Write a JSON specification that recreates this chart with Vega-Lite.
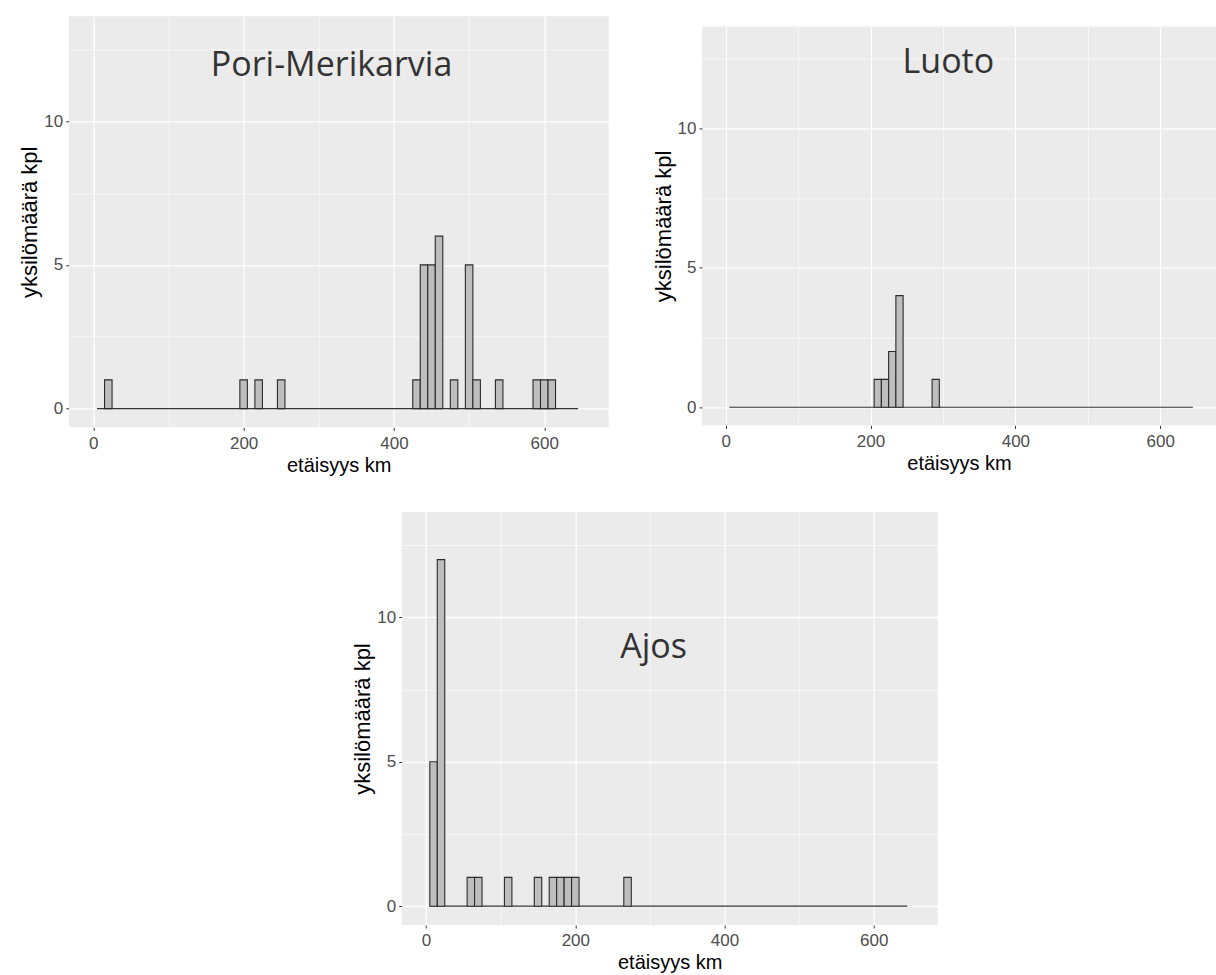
{
  "$schema": "https://vega.github.io/schema/vega-lite/v6.json",
  "background": "white",
  "padding": {"left": 18.7, "top": 13.3, "right": 0, "bottom": 0},
  "config": {
    "view": {"fill": "#EBEBEB", "stroke": null},
    "axis": {
      "domain": false,
      "grid": true,
      "gridColor": "white",
      "tickColor": "#333333",
      "tickSize": 3,
      "tickWidth": 1,
      "labelColor": "#4D4D4D",
      "labelFont": "Liberation Sans",
      "labelFontSize": 17,
      "labelPadding": 3,
      "titleFont": "Liberation Sans",
      "titleFontSize": 20,
      "titleFontWeight": "normal",
      "titleColor": "#000000",
      "titlePadding": 2
    },
    "axisX": {"labelPadding": 5, "titlePadding": 4},
    "axisY": {"titleFontSize": 22}
  },
  "vconcat": [
    {
      "hconcat": [
        {
          "width": 540,
          "height": 411,
          "layer": [
            {
              "data": {"values": [{"lo": 5, "hi": 645}]},
              "mark": {"type": "rule", "color": "#333333", "strokeWidth": 1.2},
              "encoding": {
                "x": {"field": "lo", "type": "quantitative", "scale": {"domain": [-32.7, 685.7], "nice": false, "zero": false},
                  "axis": {"title": "etäisyys km", "values": [0, 100, 200, 300, 400, 500, 600],
                    "labelExpr": "datum.value % 200 === 0 ? datum.label : ''",
                    "tickOpacity": {"condition": {"test": "datum.value % 200 === 0", "value": 1}, "value": 0},
                    "gridWidth": {"condition": {"test": "datum.value % 200 === 0", "value": 1.3}, "value": 0.6}}},
                "x2": {"field": "hi"},
                "y": {"datum": 0, "type": "quantitative", "scale": {"domain": [-0.65, 13.65], "nice": false, "zero": false},
                  "axis": {"title": "yksilömäärä kpl", "values": [0, 2.5, 5, 7.5, 10, 12.5],
                    "labelExpr": "datum.value % 5 === 0 ? datum.label : ''",
                    "tickOpacity": {"condition": {"test": "datum.value % 5 === 0", "value": 1}, "value": 0},
                    "gridWidth": {"condition": {"test": "datum.value % 5 === 0", "value": 1.3}, "value": 0.6}}}
              }
            },
            {
              "data": {"values": [
                {"lo": 15, "hi": 25, "n": 1},
                {"lo": 195, "hi": 205, "n": 1},
                {"lo": 215, "hi": 225, "n": 1},
                {"lo": 245, "hi": 255, "n": 1},
                {"lo": 425, "hi": 435, "n": 1},
                {"lo": 435, "hi": 445, "n": 5},
                {"lo": 445, "hi": 455, "n": 5},
                {"lo": 455, "hi": 465, "n": 6},
                {"lo": 475, "hi": 485, "n": 1},
                {"lo": 495, "hi": 505, "n": 5},
                {"lo": 505, "hi": 515, "n": 1},
                {"lo": 535, "hi": 545, "n": 1},
                {"lo": 585, "hi": 595, "n": 1},
                {"lo": 595, "hi": 605, "n": 1},
                {"lo": 605, "hi": 615, "n": 1}
              ]},
              "mark": {"type": "rect", "fill": "#BEBEBE", "stroke": "#2B2B2B", "strokeWidth": 1.1},
              "encoding": {
                "x": {"field": "lo", "type": "quantitative"},
                "x2": {"field": "hi"},
                "y": {"field": "n", "type": "quantitative"},
                "y2": {"datum": 0}
              }
            },
            {
              "data": {"values": [{"label": "Pori-Merikarvia"}]},
              "mark": {"type": "text", "font": "Open Sans", "fontSize": 34, "color": "#333333", "align": "center", "baseline": "alphabetic"},
              "encoding": {
                "x": {"datum": 317, "type": "quantitative"},
                "y": {"datum": 11.57, "type": "quantitative"},
                "text": {"field": "label"}
              }
            }
          ]
        },
        {
          "vconcat": [
            {
              "width": 10,
              "height": 1,
              "view": {"fill": null, "stroke": null},
              "data": {"values": [{"k": 1}]},
              "mark": {"type": "point", "opacity": 0}
            },
            {
              "width": 514,
              "height": 399,
              "layer": [
                {
                  "data": {"values": [{"lo": 5, "hi": 645}]},
                  "mark": {"type": "rule", "color": "#333333", "strokeWidth": 1.2},
                  "encoding": {
                    "x": {"field": "lo", "type": "quantitative", "scale": {"domain": [-32.7, 677], "nice": false, "zero": false},
                      "axis": {"title": "etäisyys km", "values": [0, 100, 200, 300, 400, 500, 600],
                        "labelExpr": "datum.value % 200 === 0 ? datum.label : ''",
                        "tickOpacity": {"condition": {"test": "datum.value % 200 === 0", "value": 1}, "value": 0},
                        "gridWidth": {"condition": {"test": "datum.value % 200 === 0", "value": 1.3}, "value": 0.6}}},
                    "x2": {"field": "hi"},
                    "y": {"datum": 0, "type": "quantitative", "scale": {"domain": [-0.65, 13.65], "nice": false, "zero": false},
                      "axis": {"title": "yksilömäärä kpl", "values": [0, 2.5, 5, 7.5, 10, 12.5],
                        "labelExpr": "datum.value % 5 === 0 ? datum.label : ''",
                        "tickOpacity": {"condition": {"test": "datum.value % 5 === 0", "value": 1}, "value": 0},
                        "gridWidth": {"condition": {"test": "datum.value % 5 === 0", "value": 1.3}, "value": 0.6}}}
                  }
                },
                {
                  "data": {"values": [
                    {"lo": 205, "hi": 215, "n": 1},
                    {"lo": 215, "hi": 225, "n": 1},
                    {"lo": 225, "hi": 235, "n": 2},
                    {"lo": 235, "hi": 245, "n": 4},
                    {"lo": 285, "hi": 295, "n": 1}
                  ]},
                  "mark": {"type": "rect", "fill": "#BEBEBE", "stroke": "#2B2B2B", "strokeWidth": 1.1},
                  "encoding": {
                    "x": {"field": "lo", "type": "quantitative"},
                    "x2": {"field": "hi"},
                    "y": {"field": "n", "type": "quantitative"},
                    "y2": {"datum": 0}
                  }
                },
                {
                  "data": {"values": [{"label": "Luoto"}]},
                  "mark": {"type": "text", "font": "Open Sans", "fontSize": 34, "color": "#333333", "align": "center", "baseline": "alphabetic"},
                  "encoding": {
                    "x": {"datum": 307.5, "type": "quantitative"},
                    "y": {"datum": 11.98, "type": "quantitative"},
                    "text": {"field": "label"}
                  }
                }
              ]
            }
          ],
          "spacing": 6.1
        }
      ],
      "spacing": 43.3
    },
    {
      "hconcat": [
        {
          "width": 267.9,
          "height": 10,
          "view": {"fill": null, "stroke": null},
          "data": {"values": [{"k": 1}]},
          "mark": {"type": "point", "opacity": 0}
        },
        {
          "width": 536,
          "height": 413,
          "layer": [
            {
              "data": {"values": [{"lo": 5, "hi": 645}]},
              "mark": {"type": "rule", "color": "#333333", "strokeWidth": 1.2},
              "encoding": {
                "x": {"field": "lo", "type": "quantitative", "scale": {"domain": [-32.7, 685.7], "nice": false, "zero": false},
                  "axis": {"title": "etäisyys km", "values": [0, 100, 200, 300, 400, 500, 600],
                    "labelExpr": "datum.value % 200 === 0 ? datum.label : ''",
                    "tickOpacity": {"condition": {"test": "datum.value % 200 === 0", "value": 1}, "value": 0},
                    "gridWidth": {"condition": {"test": "datum.value % 200 === 0", "value": 1.3}, "value": 0.6}}},
                "x2": {"field": "hi"},
                "y": {"datum": 0, "type": "quantitative", "scale": {"domain": [-0.65, 13.65], "nice": false, "zero": false},
                  "axis": {"title": "yksilömäärä kpl", "values": [0, 2.5, 5, 7.5, 10, 12.5],
                    "labelExpr": "datum.value % 5 === 0 ? datum.label : ''",
                    "tickOpacity": {"condition": {"test": "datum.value % 5 === 0", "value": 1}, "value": 0},
                    "gridWidth": {"condition": {"test": "datum.value % 5 === 0", "value": 1.3}, "value": 0.6}}}
              }
            },
            {
              "data": {"values": [
                {"lo": 5, "hi": 15, "n": 5},
                {"lo": 15, "hi": 25, "n": 12},
                {"lo": 55, "hi": 65, "n": 1},
                {"lo": 65, "hi": 75, "n": 1},
                {"lo": 105, "hi": 115, "n": 1},
                {"lo": 145, "hi": 155, "n": 1},
                {"lo": 165, "hi": 175, "n": 1},
                {"lo": 175, "hi": 185, "n": 1},
                {"lo": 185, "hi": 195, "n": 1},
                {"lo": 195, "hi": 205, "n": 1},
                {"lo": 265, "hi": 275, "n": 1}
              ]},
              "mark": {"type": "rect", "fill": "#BEBEBE", "stroke": "#2B2B2B", "strokeWidth": 1.1},
              "encoding": {
                "x": {"field": "lo", "type": "quantitative"},
                "x2": {"field": "hi"},
                "y": {"field": "n", "type": "quantitative"},
                "y2": {"datum": 0}
              }
            },
            {
              "data": {"values": [{"label": "Ajos"}]},
              "mark": {"type": "text", "font": "Open Sans", "fontSize": 34, "color": "#333333", "align": "center", "baseline": "alphabetic"},
              "encoding": {
                "x": {"datum": 305, "type": "quantitative"},
                "y": {"datum": 8.6, "type": "quantitative"},
                "text": {"field": "label"}
              }
            }
          ]
        }
      ],
      "spacing": 15
    }
  ],
  "spacing": 36.7
}
